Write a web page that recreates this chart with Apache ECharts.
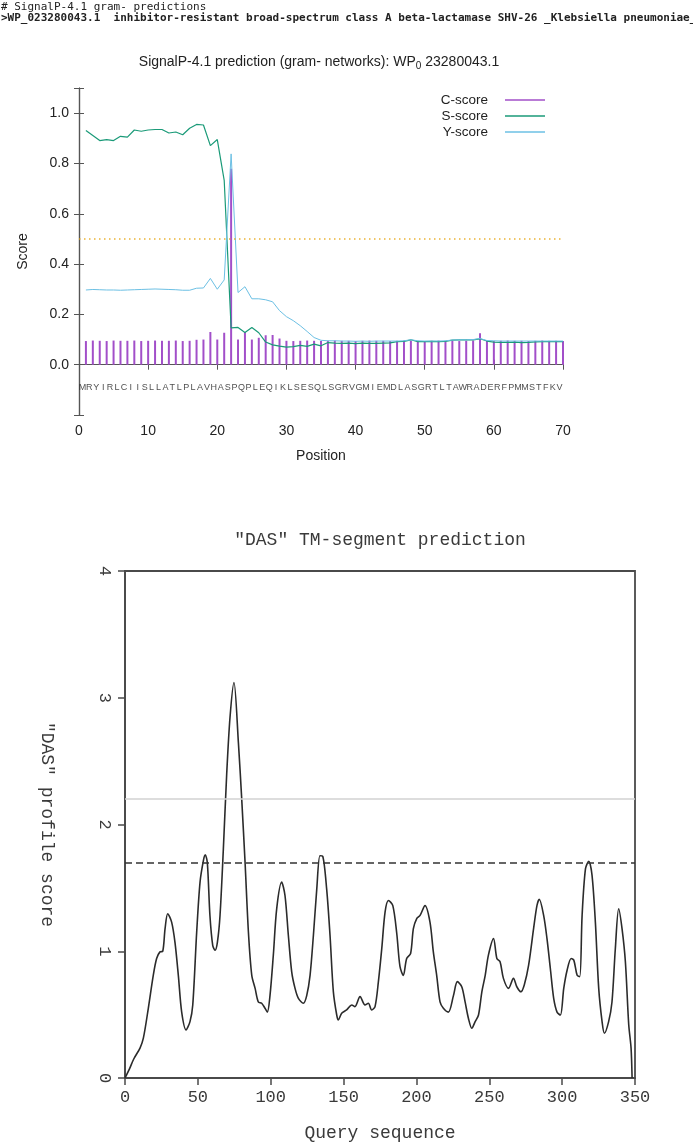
<!DOCTYPE html>
<html>
<head>
<meta charset="utf-8">
<title>SignalP-4.1 / DAS</title>
<script src="https://cdn.jsdelivr.net/npm/echarts@6/dist/echarts.min.js"></script>
<style>
html, body { margin: 0; padding: 0; background: #fff; }
#chart { width: 693px; height: 1143px; }
</style>
</head>
<body>
<div id="chart"></div>
<script>
// SignalP-4.1 scores, one value per residue (positions 1..70)
const sequence = 'MRYIRLCIISLLATLPLAVHASPQPLEQIKLSESQLSGRVGMIEMDLASGRTLTAWRADERFPMMSTFKV'.split('');
const cScore = [
  0.094, 0.096, 0.095, 0.094, 0.096, 0.095, 0.095, 0.096, 0.094, 0.095,
  0.096, 0.095, 0.095, 0.096, 0.094, 0.095, 0.099, 0.100, 0.130, 0.100,
  0.127, 0.779, 0.100, 0.130, 0.100, 0.107, 0.117, 0.118, 0.104, 0.095,
  0.094, 0.095, 0.096, 0.095, 0.094, 0.095, 0.096, 0.095, 0.095, 0.094,
  0.095, 0.096, 0.095, 0.095, 0.094, 0.095, 0.096, 0.095, 0.095, 0.094,
  0.095, 0.096, 0.095, 0.095, 0.094, 0.095, 0.096, 0.125, 0.095, 0.094,
  0.095, 0.096, 0.095, 0.095, 0.094, 0.095, 0.096, 0.095, 0.095, 0.094
];
const sScore = [
  0.931, 0.911, 0.891, 0.895, 0.891, 0.908, 0.905, 0.933, 0.928, 0.933,
  0.935, 0.935, 0.921, 0.925, 0.914, 0.940, 0.955, 0.953, 0.871, 0.895,
  0.733, 0.146, 0.148, 0.128, 0.148, 0.127, 0.090, 0.079, 0.074, 0.070,
  0.072, 0.077, 0.073, 0.082, 0.075, 0.088, 0.086, 0.085, 0.086, 0.084,
  0.086, 0.085, 0.085, 0.086, 0.087, 0.092, 0.093, 0.099, 0.092, 0.092,
  0.093, 0.092, 0.093, 0.098, 0.099, 0.099, 0.099, 0.103, 0.094, 0.090,
  0.089, 0.089, 0.090, 0.088, 0.089, 0.091, 0.092, 0.092, 0.092, 0.092
];
const yScore = [
  0.297, 0.299, 0.298, 0.297, 0.297, 0.296, 0.297, 0.298, 0.299, 0.300,
  0.301, 0.300, 0.299, 0.298, 0.296, 0.296, 0.304, 0.305, 0.343, 0.300,
  0.337, 0.838, 0.287, 0.310, 0.262, 0.262, 0.258, 0.250, 0.215, 0.191,
  0.175, 0.155, 0.132, 0.108, 0.097, 0.095, 0.095, 0.094, 0.094, 0.093,
  0.094, 0.093, 0.094, 0.094, 0.094, 0.094, 0.095, 0.099, 0.095, 0.094,
  0.094, 0.094, 0.095, 0.098, 0.099, 0.099, 0.100, 0.104, 0.096, 0.095,
  0.094, 0.094, 0.094, 0.094, 0.094, 0.094, 0.094, 0.094, 0.094, 0.094
];
const signalThreshold = 0.5;

// DAS profile (query position, score)
const dasPos = [
  0, 3, 6, 10.3, 12.6, 16, 19.4, 21.7, 24, 25.9, 27.5, 29.3, 32, 34.3, 36.6, 38.9,
  41.9, 44.6, 46.5, 49.2, 51.5, 53.8, 55.1, 56.5, 58.3, 60.2, 61.8, 63.4, 65.2, 67.5,
  69.8, 72.1, 74.8, 77.8, 80.1, 82.4, 84.7, 87, 89.3, 91.5, 93.8, 96.1, 97.7, 99.5,
  101.8, 104.1, 107.5, 109.8, 112.1, 114.4, 116.7, 119, 122.4, 124.7, 127, 129.3,
  131.6, 133.8, 135.7, 138.4, 140.7, 143, 145.3, 146.4, 148.7, 152.1, 155.6, 157.8,
  161.3, 164.7, 167, 169.3, 171.6, 173.9, 176.2, 178.5, 180.8, 183.8, 186.5, 188.7,
  191, 193.3, 196, 197.9, 200.2, 202.5, 205.9, 209.3, 211.6, 213.9, 216.2, 218.5,
  221.9, 225.4, 228.1, 231.1, 233.4, 235.7, 238, 240.3, 242.6, 244.9, 247.2, 249.4,
  252.9, 255.2, 257.4, 259.7, 263.2, 266.6, 268.9, 271.7, 274, 277, 280.4, 282.7,
  284.3, 287.3, 289.6, 291.9, 294.2, 296.5, 298.8, 301.1, 303.4, 306.2, 308, 310.3,
  312.1, 313.7, 316, 318.3, 320.5, 322.8, 325.1, 327.4, 329, 331.9, 334.2, 336.5,
  338.8, 341.1, 343.4, 345.7, 347.3, 348
];
const dasScore = [
  0, 0.07, 0.15, 0.236, 0.314, 0.55, 0.81, 0.943, 0.995, 1.0, 1.178, 1.296, 1.23, 1.07, 0.81, 0.52,
  0.38, 0.445, 0.576, 1.152, 1.545, 1.715, 1.76, 1.70, 1.28, 1.047, 1.008, 1.07, 1.28, 1.807,
  2.40, 2.85, 3.12, 2.65, 2.2, 1.70, 1.15, 0.81, 0.707, 0.60, 0.59, 0.55, 0.52, 0.65,
  0.97, 1.335, 1.545, 1.44, 1.126, 0.838, 0.707, 0.628, 0.59, 0.65, 0.81, 1.126,
  1.49, 1.754, 1.75, 1.49, 1.126, 0.68, 0.497, 0.458, 0.51, 0.537, 0.576, 0.563,
  0.642, 0.576, 0.59, 0.537, 0.563, 0.76, 1.02, 1.31, 1.40, 1.36, 1.14, 0.88,
  0.81, 0.943, 0.982, 1.178, 1.257, 1.283, 1.36, 1.23, 0.995, 0.81, 0.60, 0.55,
  0.52, 0.65, 0.76, 0.72, 0.60, 0.47, 0.393, 0.445, 0.497, 0.68, 0.81, 0.97,
  1.10, 0.943, 0.917, 0.786, 0.707, 0.786, 0.72, 0.68, 0.734, 0.89, 1.178, 1.36,
  1.41, 1.283, 1.10, 0.864, 0.628, 0.52, 0.497, 0.707, 0.85, 0.943, 0.93, 0.81,
  0.80, 1.283, 1.65, 1.71, 1.60, 1.23, 0.707, 0.445, 0.353, 0.445, 0.60, 1.02,
  1.335, 1.178, 0.917, 0.42, 0.236, 0
];
const dasCutoffs = [2.2, 1.7];

const sansFont = '"Liberation Sans", Arial, sans-serif';
const monoFont = '"Liberation Mono", "Courier New", monospace';
const frameColor = '#555';

const chart = echarts.init(document.getElementById('chart'));

const positions = cScore.map((_, i) => i + 1);
const pairs = (xs, ys) => xs.map((x, i) => [x, ys[i]]);

const option = {
  animation: false,
  backgroundColor: '#fff',
  graphic: [
    {type: 'text', left: 1, top: 2, style: {text: '# SignalP-4.1 gram- predictions', font: '11px "DejaVu Sans Mono", monospace', fill: '#222'}},
    {type: 'text', left: 1, top: 13, style: {text: '>WP_023280043.1  inhibitor-resistant broad-spectrum class A beta-lactamase SHV-26 _Klebsiella pneumoniae_', font: 'bold 11px "DejaVu Sans Mono", monospace', fill: '#222'}},
    {
      type: 'text', x: 319, y: 62,
      style: {
        text: 'SignalP-4.1 prediction (gram- networks): WP{sub|0} 23280043.1',
        font: '14px ' + sansFont, fill: '#222',
        align: 'center', verticalAlign: 'middle', textAlign: 'center', textVerticalAlign: 'middle',
        lineHeight: 18,
        rich: {sub: {fontSize: 10, fontFamily: sansFont, verticalAlign: 'bottom', lineHeight: 18}}
      }
    },
    {
      type: 'text', x: 380, y: 540,
      style: {
        text: '"DAS" TM-segment prediction', font: '18px ' + monoFont, fill: '#3a3a3a',
        align: 'center', verticalAlign: 'middle', textAlign: 'center', textVerticalAlign: 'middle'
      }
    }
  ],
  legend: {
    data: ['C-score', 'S-score', 'Y-score'],
    orient: 'vertical',
    right: 148,
    top: 93,
    align: 'right',
    padding: 0,
    icon: 'rect',
    itemWidth: 40,
    itemHeight: 1.5,
    itemGap: 2,
    textStyle: {fontFamily: sansFont, fontSize: 13.5, color: '#222', padding: [0, 12, 0, 0]}
  },
  grid: [
    {left: 79, top: 88, width: 484, height: 327, show: false},
    {left: 125, top: 571, width: 510, height: 509, show: true, borderColor: '#4a4a4a', borderWidth: 1.8}
  ],
  xAxis: [
    {
      gridIndex: 0, type: 'value', min: 0, max: 70, interval: 10,
      axisLine: {lineStyle: {color: frameColor, width: 1.2}},
      axisTick: {inside: true, length: 5, lineStyle: {color: frameColor}},
      axisLabel: {fontFamily: sansFont, fontSize: 14, color: '#222', margin: 9},
      splitLine: {show: false},
      name: 'Position', nameLocation: 'middle', nameGap: 34,
      nameTextStyle: {fontFamily: sansFont, fontSize: 14, color: '#222'}
    },
    {
      gridIndex: 0, type: 'value', min: 0, max: 70, interval: 10, position: 'top',
      axisLine: {lineStyle: {color: frameColor, width: 1.2}},
      axisTick: {inside: true, length: 5, lineStyle: {color: frameColor}},
      axisLabel: {show: false}, splitLine: {show: false}
    },
    {
      gridIndex: 1, type: 'value', min: 0, max: 350, interval: 50,
      axisLine: {lineStyle: {color: '#4a4a4a', width: 1.8}},
      axisTick: {inside: false, length: 7, lineStyle: {color: '#4a4a4a', width: 1.5}},
      axisLabel: {fontFamily: monoFont, fontSize: 17, color: '#3a3a3a', margin: 11},
      splitLine: {show: false},
      name: 'Query sequence', nameLocation: 'middle', nameGap: 46,
      nameTextStyle: {fontFamily: monoFont, fontSize: 18, color: '#3a3a3a'}
    }
  ],
  yAxis: [
    {
      gridIndex: 0, type: 'value', min: -0.2, max: 1.1, interval: 0.2,
      axisLine: {lineStyle: {color: frameColor, width: 1.2}},
      axisTick: {inside: true, length: 5, lineStyle: {color: frameColor}},
      axisLabel: {
        fontFamily: sansFont, fontSize: 14, color: '#222', margin: 10,
        formatter: v => (v < -0.01 || v > 1.05) ? '' : Math.abs(v).toFixed(1)
      },
      splitLine: {show: false},
      name: 'Score', nameLocation: 'middle', nameRotate: 90, nameGap: 49,
      nameTextStyle: {fontFamily: sansFont, fontSize: 14, color: '#222'}
    },
    {
      gridIndex: 0, type: 'value', min: -0.2, max: 1.1, interval: 0.2, position: 'right',
      axisLine: {lineStyle: {color: frameColor, width: 1.2}},
      axisTick: {inside: true, length: 5, lineStyle: {color: frameColor}},
      axisLabel: {show: false}, splitLine: {show: false}
    },
    {
      gridIndex: 1, type: 'value', min: 0, max: 4, interval: 1,
      axisLine: {lineStyle: {color: '#4a4a4a', width: 1.8}},
      axisTick: {inside: false, length: 7, lineStyle: {color: '#4a4a4a', width: 1.5}},
      axisLabel: {fontFamily: monoFont, fontSize: 17, color: '#3a3a3a', margin: 12, rotate: -90},
      splitLine: {show: false},
      name: '"DAS" profile score', nameLocation: 'middle', nameRotate: -90, nameGap: 69,
      nameTextStyle: {fontFamily: monoFont, fontSize: 18, color: '#3a3a3a'}
    }
  ],
  series: [
    {
      name: 'C-score', type: 'bar', xAxisIndex: 0, yAxisIndex: 0,
      data: pairs(positions, cScore), barWidth: 2,
      itemStyle: {color: '#a24fc9'}, silent: true
    },
    {
      name: 'S-score', type: 'line', xAxisIndex: 0, yAxisIndex: 0,
      data: pairs(positions, sScore), symbol: 'none',
      lineStyle: {color: '#1a9a78', width: 1.2}, itemStyle: {color: '#1a9a78'},
      markLine: {
        silent: true, symbol: ['none', 'none'], label: {show: false},
        data: [{yAxis: signalThreshold, lineStyle: {color: '#e69f00', type: [1.5, 3.5], width: 1.5, opacity: 0.8}}]
      }
    },
    {
      name: 'Y-score', type: 'line', xAxisIndex: 0, yAxisIndex: 0,
      data: pairs(positions, yScore), symbol: 'none',
      lineStyle: {color: '#6cc0e4', width: 1}, itemStyle: {color: '#6cc0e4'}
    },
    {
      name: 'sequence', type: 'scatter', xAxisIndex: 0, yAxisIndex: 0,
      data: sequence.map((aa, i) => [i + 0.5, -0.09, aa]),
      symbolSize: 1, itemStyle: {color: 'rgba(0,0,0,0)'}, silent: true,
      label: {
        show: true, position: 'inside', formatter: p => p.value[2],
        fontFamily: sansFont, fontSize: 9, color: '#222'
      }
    },
    {
      name: 'DAS', type: 'line', xAxisIndex: 2, yAxisIndex: 2,
      data: pairs(dasPos, dasScore), symbol: 'none', smooth: 0.3,
      lineStyle: {color: '#2b2b2b', width: 1.6},
      markLine: {
        silent: true, symbol: ['none', 'none'], label: {show: false},
        data: [
          {yAxis: dasCutoffs[0], lineStyle: {color: '#d2d2d2', type: 'solid', width: 1.5}},
          {yAxis: dasCutoffs[1], lineStyle: {color: '#333', type: [7, 4], width: 1.5}}
        ]
      }
    }
  ]
};

chart.setOption(option);
</script>
</body>
</html>
